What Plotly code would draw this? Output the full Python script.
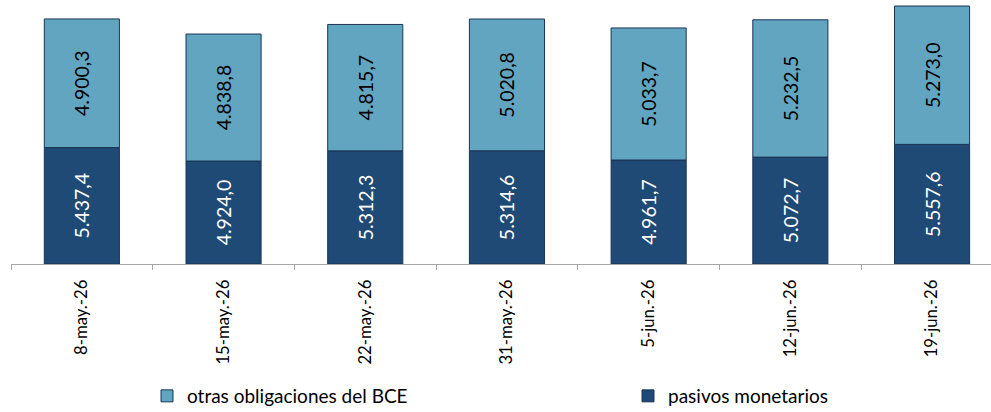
import plotly.graph_objects as go

categories = ["8-may.-26", "15-may.-26", "22-may.-26", "31-may.-26", "5-jun.-26", "12-jun.-26", "19-jun.-26"]
pasivos_monetarios = [5437.4, 4924.0, 5312.3, 5314.6, 4961.7, 5072.7, 5557.6]
otras_obligaciones = [4900.3, 4838.8, 4815.7, 5020.8, 5033.7, 5232.5, 5273.0]

AXIS_MIN = 1000
AXIS_MAX = 11060

def es_fmt(v):
    s = f"{v:,.1f}"
    return s.replace(",", "X").replace(".", ",").replace("X", ".")

FONT = "Lato"
DARK = "#1F4A75"
LIGHT = "#62A5C1"
EDGE = "#1B3556"

fig = go.Figure()
fig.add_trace(go.Bar(
    name="pasivos monetarios",
    legend="legend2",
    x=categories,
    y=[v - AXIS_MIN for v in pasivos_monetarios],
    base=AXIS_MIN,
    width=0.53,
    marker=dict(color=DARK, line=dict(color=EDGE, width=1)),
    text=[es_fmt(v) for v in pasivos_monetarios],
    textposition="inside",
    insidetextanchor="middle",
    textangle=-90,
    textfont=dict(family=FONT, size=19.5, color="white"),
    hoverinfo="skip",
))
fig.add_trace(go.Bar(
    name="otras obligaciones del BCE",
    legend="legend",
    x=categories,
    y=otras_obligaciones,
    base=pasivos_monetarios,
    width=0.53,
    marker=dict(color=LIGHT, line=dict(color=EDGE, width=1)),
    text=[es_fmt(v) for v in otras_obligaciones],
    textposition="inside",
    insidetextanchor="middle",
    textangle=-90,
    textfont=dict(family=FONT, size=19.5, color="black"),
    hoverinfo="skip",
))

leg_common = dict(
    orientation="h",
    xref="container", yref="container",
    y=1 - 396 / 412,
    xanchor="left", yanchor="middle",
    font=dict(family=FONT, size=19, color="black"),
    bgcolor="rgba(0,0,0,0)",
)

fig.update_layout(
    width=991, height=412,
    barmode="overlay",
    margin=dict(l=11, r=0, t=0, b=148),
    paper_bgcolor="white", plot_bgcolor="white",
    font=dict(family=FONT, size=16, color="black"),
    showlegend=True,
    legend=dict(x=147 / 991, **leg_common),
    legend2=dict(x=628 / 991, **leg_common),
)
fig.update_xaxes(
    type="category",
    range=[-0.5, 6.416],
    showline=True, linecolor="#A6A6A6", linewidth=1,
    ticks="outside", tickson="boundaries", ticklen=5, tickcolor="#A6A6A6",
    tickangle=-90,
    tickfont=dict(family=FONT, size=16.7, color="black"),
    ticklabelstandoff=8,
    showgrid=False, zeroline=False,
)
fig.update_yaxes(
    range=[AXIS_MIN, AXIS_MAX],
    visible=False,
    showgrid=False, zeroline=False,
)

fig.write_html("out.html", config={"displayModeBar": False},
               post_script="document.body.style.margin='0';")
